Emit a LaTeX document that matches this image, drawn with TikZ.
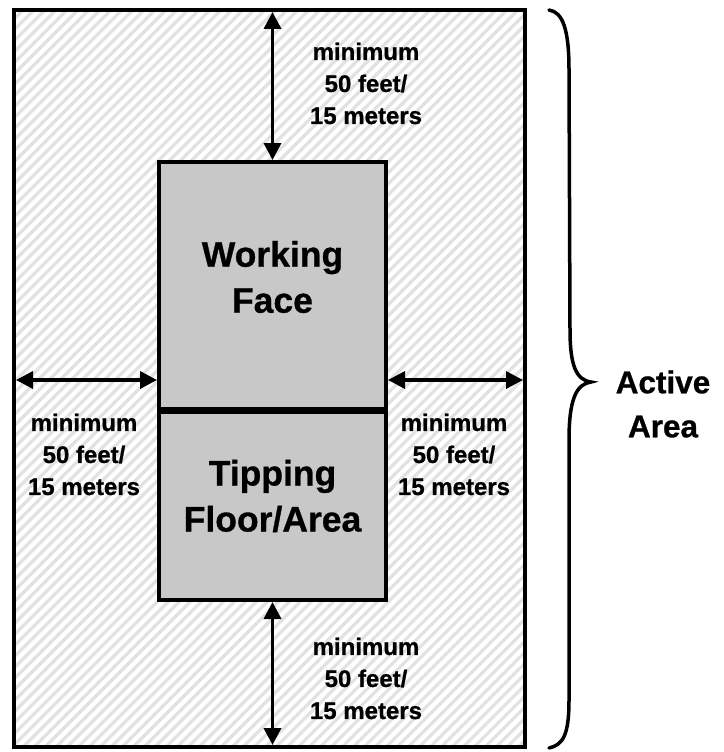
\documentclass[tikz,border=0pt]{standalone}
\usepackage{fontspec}
\setmainfont{Liberation Sans}[BoldFeatures={FakeBold=0.8}]
\usetikzlibrary{arrows.meta}
\definecolor{hatchgray}{RGB}{226,226,226}
\definecolor{boxgray}{RGB}{200,200,200}
\begin{document}
\begin{tikzpicture}[x=1pt,y=-1pt,
  region/.style={draw=black, line width=4pt, outer sep=0pt, inner sep=0pt, rectangle},
  boxstyle/.style={region, fill=boxgray},
  dim/.style={line width=3.5pt, {Triangle[length=17pt,width=17pt]}-{Triangle[length=17pt,width=17pt]}, shorten <=2pt, shorten >=2pt},
  small/.style={font=\fontsize{24}{32}\selectfont\bfseries, align=center, inner sep=0pt},
  big/.style={font=\fontsize{35.5}{46}\selectfont\bfseries, align=center, inner sep=0pt},
  side/.style={font=\fontsize{31.5}{44}\selectfont\bfseries, align=center, inner sep=0pt},
]
\path[use as bounding box] (0,0) rectangle (723,752);
% hatching of the active area
\begin{scope}
  \clip (14,10) rectangle (525,747);
  \foreach \c in {0,11,...,1320} \draw[hatchgray, line width=3.2pt] (\c,0) -- (\c-760,760);
\end{scope}
% regions
\node[region, minimum width=511pt, minimum height=737pt] (outer) at (269.5,378.5) {};
\node[boxstyle, minimum width=227pt, minimum height=248pt] (wf) at (272.5,286) {};
\node[boxstyle, minimum width=227pt, minimum height=190pt] (tf) at (272.5,505) {};
\draw[line width=7pt] (wf.south west) -- (wf.south east);
% dimension arrows
\coordinate (mid) at (0,380);
\draw[dim] (wf.north |- outer.north) -- (wf.north);
\draw[dim] (tf.south) -- (tf.south |- outer.south);
\draw[dim] (outer.west |- mid) -- (wf.west |- mid);
\draw[dim] (wf.east |- mid) -- (outer.east |- mid);
% labels
\node[small] (lt) at (366,83.4) {minimum\\50 feet/\\15 meters};
\node[small] (ll) at (84,454.4) {minimum\\50 feet/\\15 meters};
\node[small] (lr) at (454,454.4) {minimum\\50 feet/\\15 meters};
\node[small] (lb) at (366,678.4) {minimum\\50 feet/\\15 meters};
\node[big] (twf) at (272.5,277) {Working\\Face};
\node[big] (ttf) at (272.5,496) {Tipping\\Floor/Area};
\node[side] (active) at (663,404) {Active\\Area};
% brace
\draw[line width=3.5pt, line cap=round]
  (549,10) .. controls (563,12) and (569,30) .. (569,70)
  -- (570,330) .. controls (570,365) and (576,380) .. (591,382)
  .. controls (576,384) and (569,400) .. (569,440)
  -- (569,700) .. controls (569,735) and (563,745) .. (549,748);
\end{tikzpicture}
\end{document}
